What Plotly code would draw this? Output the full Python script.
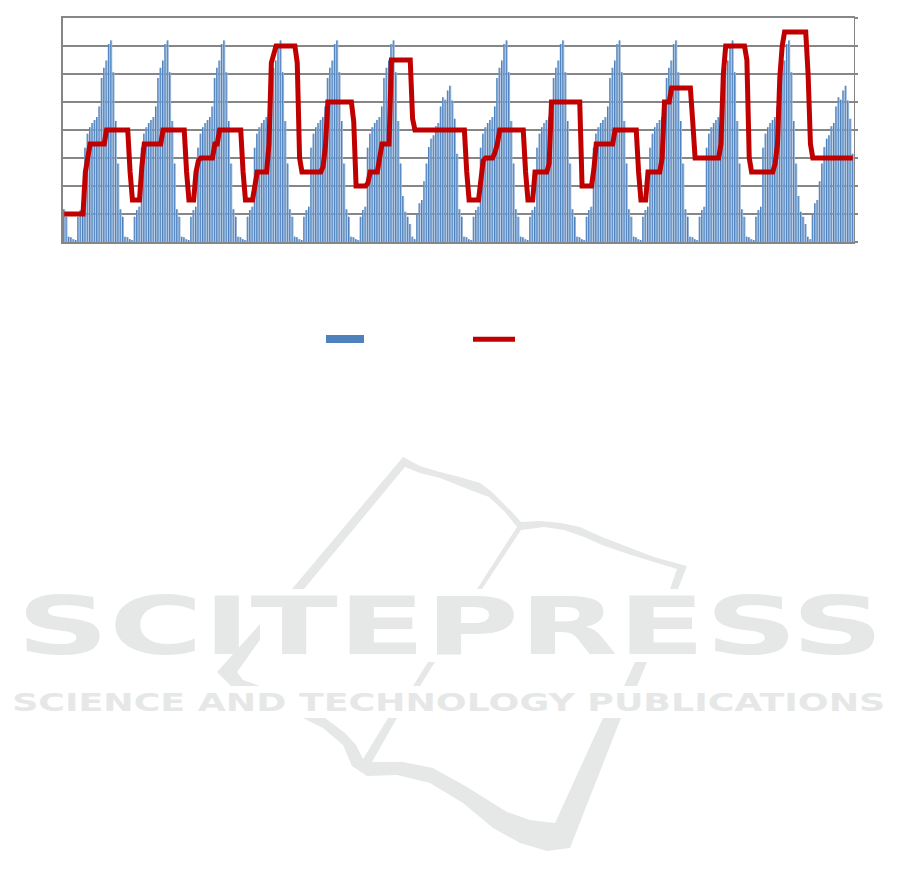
import plotly.graph_objects as go

# ---------- data (14 days, 24 hours each) ----------
weekday_bars = [1.17, 0.9, 0.19, 0.17, 0.1, 0.07, 0.9, 1.14, 1.26, 3.37, 3.87, 4.1,
                4.25, 4.36, 4.46, 4.84, 5.86, 6.22, 6.48, 7.07, 7.2, 6.06, 4.32, 2.8]
weekend_bars = [1.64, 1.08, 0.9, 0.64, 0.19, 0.1, 0.96, 1.38, 1.5, 2.17, 2.8, 3.39,
                3.69, 3.81, 4.13, 4.25, 4.84, 5.17, 5.08, 5.41, 5.58, 5.05, 4.4, 3.15]
day_types = ["wd", "wd", "wd", "wd", "wd", "wd", "we", "wd", "wd", "wd", "wd", "wd", "wd", "we"]

line_d00 = [1, 1, 1, 1, 1, 1, 1, 1, 1, 2.5, 3.1, 3.5, 3.5, 3.5, 3.5, 3.5, 3.5, 3.5, 4, 4, 4, 4, 4, 4]
line_d01 = [4, 4, 4, 4, 2.5, 1.5, 1.5, 1.5, 1.5, 2.7, 3.5, 3.5, 3.5, 3.5, 3.5, 3.5, 3.5, 3.5, 4, 4, 4, 4, 4, 4]
line_d02 = [4, 4, 4, 4, 2.5, 1.5, 1.5, 1.5, 2.5, 2.9, 3, 3, 3, 3, 3, 3, 3.5, 3.5, 4, 4, 4, 4, 4, 4]
line_d03 = [4, 4, 4, 4, 2.5, 1.5, 1.5, 1.5, 1.5, 2, 2.5, 2.5, 2.5, 2.5, 2.5, 3.5, 6.4, 6.7, 7, 7, 7, 7, 7, 7]
line_d04 = [7, 7, 7, 6.4, 3, 2.5, 2.5, 2.5, 2.5, 2.5, 2.5, 2.5, 2.5, 2.5, 2.7, 3.45, 5, 5, 5, 5, 5, 5, 5, 5]
line_d05 = [5, 5, 5, 4.3, 2, 2, 2, 2, 2, 2.1, 2.5, 2.5, 2.5, 2.5, 3, 3.5, 3.5, 3.5, 3.5, 6.5, 6.5, 6.5, 6.5, 6.5]
line_d06 = [6.5, 6.5, 6.5, 6.5, 4.4, 4, 4, 4, 4, 4, 4, 4, 4, 4, 4, 4, 4, 4, 4, 4, 4, 4, 4, 4]
line_d07 = [4, 4, 4, 2.5, 1.5, 1.5, 1.5, 1.5, 1.5, 2.2, 2.9, 3, 3, 3, 3, 3.2, 3.5, 4, 4, 4, 4, 4, 4, 4]
line_d08 = [4, 4, 4, 4, 2.5, 1.5, 1.5, 1.5, 2.5, 2.5, 2.5, 2.5, 2.5, 2.5, 2.8, 5, 5, 5, 5, 5, 5, 5, 5, 5]
line_d09 = [5, 5, 5, 5, 2, 2, 2, 2, 2, 2.6, 3.5, 3.5, 3.5, 3.5, 3.5, 3.5, 3.5, 3.5, 4, 4, 4, 4, 4, 4]
line_d10 = [4, 4, 4, 4, 2.5, 1.5, 1.5, 1.5, 2.5, 2.5, 2.5, 2.5, 2.5, 2.5, 3, 5, 5, 5, 5.5, 5.5, 5.5, 5.5, 5.5, 5.5]
line_d11 = [5.5, 5.5, 5.5, 4.3, 3, 3, 3, 3, 3, 3, 3, 3, 3, 3, 3, 3.5, 6, 7, 7, 7, 7, 7, 7, 7]
line_d12 = [7, 7, 6.5, 3, 2.5, 2.5, 2.5, 2.5, 2.5, 2.5, 2.5, 2.5, 2.5, 2.5, 2.8, 3.5, 5.9, 7, 7.5, 7.5, 7.5, 7.5, 7.5, 7.5]
line_d13 = [7.5, 7.5, 7.5, 7.5, 6, 3.5, 3, 3, 3, 3, 3, 3, 3, 3, 3, 3, 3, 3, 3, 3, 3, 3, 3, 3]
line_days = [line_d00, line_d01, line_d02, line_d03, line_d04, line_d05, line_d06,
             line_d07, line_d08, line_d09, line_d10, line_d11, line_d12, line_d13]

watermark_title = "SCITEPRESS"
watermark_subtitle = "SCIENCE AND TECHNOLOGY PUBLICATIONS"

bar_values = []
for d in day_types:
    bar_values.extend(weekday_bars if d == "wd" else weekend_bars)
line_values = [v for day in line_days for v in day]
hours = list(range(len(bar_values)))

# ---------- page geometry (the page body adds an 8 px margin on every side) ----------
PAGE_MARGIN = 8
W, H = 901 - 2 * PAGE_MARGIN, 886 - 2 * PAGE_MARGIN
L, T, PW, PH = 63, 18, 791, 224   # plot area in window pixels
GREY = "#868686"
WM = "#e6e8e7"


def px(x):
    return (x - L) / PW


def py(y):
    return (T + PH - y) / PH


def poly(points):
    parts = [f"{'M' if i == 0 else 'L'}{px(x):.5f},{py(y):.5f}" for i, (x, y) in enumerate(points)]
    return " ".join(parts) + " Z"


book_polys = [
    [(403, 457), (292, 589), (304, 589), (405, 467), (420, 473), (440, 478), (470, 490), (489, 497), (505, 512),
     (517, 527), (477, 589), (482, 589), (521, 530), (544, 527), (564, 530), (584, 537), (602, 545), (631, 555),
     (677, 569), (670, 589), (678, 589), (687, 566), (654, 557), (628, 547), (602, 537), (580, 527), (561, 523),
     (540, 521), (521, 522), (512, 512), (503, 503), (492, 492), (480, 483), (460, 477), (440, 472), (420, 466)],
    [(260, 624), (260, 640), (237, 672), (243, 680), (260, 686), (231, 686), (217, 672)],
    [(441.5, 640), (448, 640), (441.5, 651)],
    [(428, 662), (435, 662), (420, 686), (413, 686)],
    [(635, 662), (647, 662), (637, 686), (624, 686)],
    [(303, 718), (325, 718), (345, 733), (356, 745), (363, 759), (388, 718), (397, 718), (372, 762), (403, 762),
     (433, 768), (467, 787), (507, 812), (530, 820), (555, 823), (603, 718), (621, 718), (570, 848), (547, 851),
     (520, 843), (493, 828), (463, 803), (430, 783), (397, 775), (367, 776), (352, 766), (343, 745), (323, 728)],
]

shapes = [dict(type="path", xref="paper", yref="paper", path=poly(p), fillcolor=WM,
               line=dict(width=0), layer="below") for p in book_polys]
# legend keys (the legend's labels are not legible in the reference)
shapes.append(dict(type="rect", xref="paper", yref="paper", x0=px(326), x1=px(364), y0=py(343), y1=py(335),
                   fillcolor="#4f81bd", line=dict(width=0)))
shapes.append(dict(type="line", xref="paper", yref="paper", x0=px(473), x1=px(515), y0=py(339.3), y1=py(339.3),
                   line=dict(color="#c00000", width=5)))

fig = go.Figure()
# each bar reads as a dark pixel column with a paler one to its right
fig.add_trace(go.Bar(x=hours, y=bar_values, width=0.85, offset=-0.43,
                     marker=dict(color="rgba(154,183,218,0.99)", line=dict(width=0)),
                     showlegend=False, name="bars (pale)", hoverinfo="skip"))
fig.add_trace(go.Bar(x=hours, y=bar_values, width=0.43, offset=-0.43,
                     marker=dict(color="rgba(74,127,189,0.99)", line=dict(width=0)),
                     showlegend=False, name="bars"))
fig.add_trace(go.Scatter(x=hours, y=line_values, yaxis="y2", mode="lines", showlegend=False, name="line",
                         line=dict(color="#c00000", width=5)))

fig.update_layout(
    width=W, height=H,
    margin=dict(l=L - PAGE_MARGIN, r=W - (L - PAGE_MARGIN) - PW, t=T - PAGE_MARGIN, b=H - (T - PAGE_MARGIN) - PH,
                autoexpand=False),
    paper_bgcolor="white", plot_bgcolor="white", barmode="overlay",
    xaxis=dict(range=[-0.5, 335.5], showgrid=False, showticklabels=False, ticks="", zeroline=False,
               showline=True, mirror=True, linecolor=GREY, linewidth=1.5, fixedrange=True),
    yaxis=dict(range=[0, 8], dtick=1, showgrid=True, gridcolor=GREY, gridwidth=1.5, showticklabels=False,
               ticks="", zeroline=False, showline=True, linecolor=GREY, linewidth=2, fixedrange=True),
    yaxis2=dict(range=[0, 8], dtick=1, overlaying="y", side="right", showgrid=False, showticklabels=False,
                ticks="outside", ticklen=3, tickcolor=GREY, tickwidth=1.5, zeroline=False,
                showline=True, linecolor=GREY, linewidth=1, fixedrange=True),
    shapes=shapes,
    annotations=[
        dict(text=f"<b>{watermark_title}</b>", xref="paper", yref="paper", x=px(450.5), y=py(626), showarrow=False,
             font=dict(family="DejaVu Sans", size=81, color=WM), xanchor="center", yanchor="middle"),
        dict(text=f"<b>{watermark_subtitle}</b>", xref="paper", yref="paper", x=px(448.5), y=py(702), showarrow=False,
             font=dict(family="DejaVu Sans", size=25, color=WM), xanchor="center", yanchor="middle"),
    ],
)

# the watermark lettering is much wider than any installed font: stretch the real text
stretch = """
var wm = {'SCITEPRESS': 867, 'SCIENCE AND TECHNOLOGY PUBLICATIONS': 873};
document.querySelectorAll('.annotation-text').forEach(function (t) {
  var n = wm[t.textContent];
  if (n) { t.setAttribute('textLength', n); t.setAttribute('lengthAdjust', 'spacingAndGlyphs'); }
});
"""
fig.write_html("out.html", post_script=stretch, config=dict(displayModeBar=False))
